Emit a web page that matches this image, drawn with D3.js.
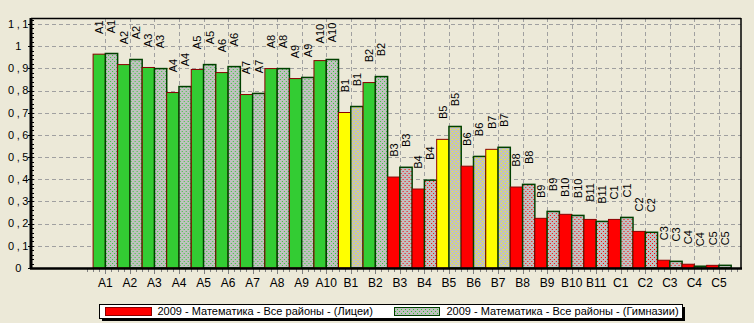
<!DOCTYPE html>
<html>
<head>
<meta charset="utf-8">
<script src="https://cdn.jsdelivr.net/npm/d3@7"></script>
<style>
  html, body { margin: 0; padding: 0; background: #ECE9D8; }
  svg { display: block; }
  text { font-family: "Liberation Sans", Arial, sans-serif; fill: #000; }
</style>
</head>
<body>
<svg id="chart" width="754" height="323"></svg>
<script>
const categories = ["A1","A2","A3","A4","A5","A6","A7","A8","A9","A10",
  "B1","B2","B3","B4","B5","B6","B7","B8","B9","B10","B11",
  "C1","C2","C3","C4","C5"];
const lyceum = [0.964,0.917,0.904,0.791,0.895,0.881,0.782,0.899,0.854,0.935,
  0.701,0.836,0.410,0.356,0.580,0.459,0.535,0.365,0.224,0.242,0.219,
  0.219,0.165,0.035,0.017,0.012];
const gymnasium = [0.967,0.940,0.899,0.818,0.917,0.908,0.787,0.899,0.859,0.940,
  0.728,0.863,0.454,0.396,0.638,0.503,0.544,0.377,0.255,0.237,0.210,
  0.228,0.161,0.030,0.008,0.012];
const yTicks = [0,0.1,0.2,0.3,0.4,0.5,0.6,0.7,0.8,0.9,1,1.1];
const yTickLabels = ["0","0,1","0,2","0,3","0,4","0,5","0,6","0,7","0,8","0,9","1","1,1"];
const seriesNames = ["2009 - Математика - Все районы - (Лицеи)", "2009 - Математика - Все районы - (Гимназии)"];

const GREEN = "#33CC33", YELLOW = "#FFFF00", RED = "#FF0000", GRAY = "#C0C0C0";
function levelColor(v){ return v >= 0.75 ? GREEN : (v >= 0.5 ? YELLOW : RED); }

const svg = d3.select("#chart");
const plotL = 31, plotR = 741, plotT = 18, plotB = 268;
const slot = (plotR - plotL) / 28.93;
const x0 = plotL + slot * 2.53;

const x = d3.scaleBand().domain(categories).range([x0, x0 + slot * categories.length]).padding(0);
const sub = d3.scaleBand().domain([0,1]).range([0, x.bandwidth()]).padding(0);
const y = d3.scaleLinear().domain([0, 1.1]).range([plotB, 24]);

// patterns
const defs = svg.append("defs");
[GREEN, YELLOW, RED].forEach((c,i) => {
  const p = defs.append("pattern").attr("id","pat"+i).attr("patternUnits","userSpaceOnUse")
    .attr("width",4).attr("height",4);
  p.append("rect").attr("width",4).attr("height",4).attr("fill",GRAY);
  p.append("rect").attr("x",1).attr("y",1).attr("width",1).attr("height",1).attr("fill",c);
  p.append("rect").attr("x",3).attr("y",3).attr("width",1).attr("height",1).attr("fill",c);
});
function patId(v){ const c = levelColor(v); return "url(#pat" + [GREEN,YELLOW,RED].indexOf(c) + ")"; }

// grid
const grid = svg.append("g");
grid.selectAll("line.h").data(yTicks.filter(d => d > 0)).join("line")
  .attr("x1", plotL).attr("x2", plotR)
  .attr("y1", d => Math.round(y(d)) + 0.5).attr("y2", d => Math.round(y(d)) + 0.5)
  .attr("stroke", "#A0A0A0").attr("stroke-dasharray", "4,3");
grid.selectAll("line.v").data(categories).join("line")
  .attr("x1", d => Math.round(x(d) + x.bandwidth()/2) + 0.5).attr("x2", d => Math.round(x(d) + x.bandwidth()/2) + 0.5)
  .attr("y1", plotT).attr("y2", plotB)
  .attr("stroke", "#A0A0A0").attr("stroke-dasharray", "4,3");

// bars
const groups = svg.append("g").selectAll("g").data(categories).join("g")
  .attr("transform", d => `translate(${x(d)},0)`);
groups.append("rect")
  .attr("x", sub(0)).attr("width", sub.bandwidth())
  .attr("y", (d,i) => y(lyceum[i])).attr("height", (d,i) => y(0) - y(lyceum[i]))
  .attr("fill", (d,i) => levelColor(lyceum[i])).attr("stroke", "#8B0000").attr("stroke-width", 1);
groups.append("rect")
  .attr("x", sub(1)).attr("width", sub.bandwidth())
  .attr("y", (d,i) => y(gymnasium[i])).attr("height", (d,i) => y(0) - y(gymnasium[i]))
  .attr("fill", (d,i) => patId(gymnasium[i])).attr("stroke", "#004000").attr("stroke-width", 1.5);

// bar labels (rotated)
[lyceum, gymnasium].forEach((vals, s) => {
  groups.append("text")
    .attr("transform", (d,i) => `translate(${sub(s) + sub.bandwidth()/2},${y(vals[i]) - 27}) rotate(-90)`)
    .attr("text-anchor", "middle").attr("dy", "0.35em")
    .style("font-size", "11px")
    .text(d => d);
});

// frame
svg.append("line").attr("x1", plotL).attr("x2", plotR).attr("y1", plotT + 0.5).attr("y2", plotT + 0.5)
  .attr("stroke", "#000").attr("stroke-width", 1.5);
svg.append("line").attr("x1", plotR).attr("x2", plotR).attr("y1", plotT).attr("y2", plotB)
  .attr("stroke", "#000").attr("stroke-width", 1.5);

// y axis
const yMinor = d3.range(0, 1.13, 0.02);
svg.append("g").selectAll("line").data(yMinor).join("line")
  .attr("x1", plotL).attr("x2", plotL + 3)
  .attr("y1", d => Math.round(y(d)) + 0.5).attr("y2", d => Math.round(y(d)) + 0.5)
  .attr("stroke", "#000");
svg.append("g").selectAll("line").data(yTicks).join("line")
  .attr("x1", plotL - 3).attr("x2", plotL + 3)
  .attr("y1", d => Math.round(y(d)) + 0.5).attr("y2", d => Math.round(y(d)) + 0.5)
  .attr("stroke", "#000");
svg.append("g").selectAll("text").data(yTicks).join("text")
  .attr("x", 19.5).attr("y", d => y(d)).attr("dy", "0.35em")
  .attr("text-anchor", "middle").style("font-size", "11px").style("letter-spacing", "2.5px")
  .text((d,i) => yTickLabels[i]);
svg.append("line").attr("x1", plotL).attr("x2", plotL).attr("y1", plotT).attr("y2", plotB + 1)
  .attr("stroke", "#000").attr("stroke-width", 3);

// x axis
const q = x.bandwidth() / 4;
const xMinor = d3.range(x0 - q, plotR + 0.5, q);
svg.append("g").selectAll("line").data(xMinor).join("line")
  .attr("x1", d => Math.round(d) + 0.5).attr("x2", d => Math.round(d) + 0.5)
  .attr("y1", plotB).attr("y2", plotB + 4).attr("stroke", "#808080");
svg.append("g").selectAll("line").data(categories).join("line")
  .attr("x1", d => Math.round(x(d) + x.bandwidth()/2) + 0.5).attr("x2", d => Math.round(x(d) + x.bandwidth()/2) + 0.5)
  .attr("y1", plotB).attr("y2", plotB + 6).attr("stroke", "#808080");
svg.append("line").attr("x1", plotL - 1).attr("x2", plotR + 1).attr("y1", plotB + 0.5).attr("y2", plotB + 0.5)
  .attr("stroke", "#000").attr("stroke-width", 2.5);
svg.append("g").selectAll("text").data(categories).join("text")
  .attr("x", d => x(d) + x.bandwidth()/2).attr("y", plotB + 19)
  .attr("text-anchor", "middle").style("font-size", "12px")
  .text(d => d);

// legend
const lg = svg.append("g");
lg.append("rect").attr("x", 102).attr("y", 307).attr("width", 583).attr("height", 14).attr("fill", "#000");
lg.append("rect").attr("x", 99.5).attr("y", 304.5).attr("width", 583).attr("height", 14)
  .attr("fill", "#fff").attr("stroke", "#000");
lg.append("rect").attr("x", 105.5).attr("y", 307.5).attr("width", 46).attr("height", 8)
  .attr("fill", RED).attr("stroke", "#8B0000");
lg.append("text").attr("x", 157.5).attr("y", 315).style("font-size", "11px").text(seriesNames[0]);
lg.append("rect").attr("x", 394.5).attr("y", 307.5).attr("width", 45).attr("height", 8)
  .attr("fill", "url(#pat0)").attr("stroke", "#004000");
lg.append("text").attr("x", 446.5).attr("y", 315).style("font-size", "11px").text(seriesNames[1]);
</script>
</body>
</html>
